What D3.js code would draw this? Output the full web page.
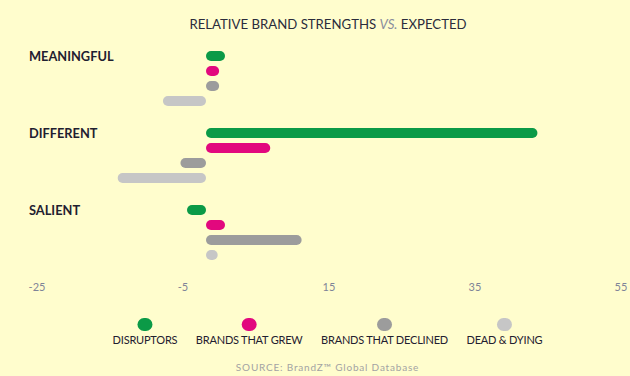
<!DOCTYPE html>
<html>
<head>
<meta charset="utf-8">
<script src="https://cdn.jsdelivr.net/npm/d3@7"></script>
<style>
  html, body { margin: 0; padding: 0; background: #fffdcd; }
  svg { display: block; font-family: Lato, "Open Sans", sans-serif; }
</style>
</head>
<body>
<script>
// values, relative strength vs expected
const groups = ['MEANINGFUL', 'DIFFERENT', 'SALIENT'];
const series = ['DISRUPTORS', 'BRANDS THAT GREW', 'BRANDS THAT DECLINED', 'DEAD & DYING'];
const meaningful = [2.6, 1.8, 1.8, -5.9];
const different = [45.4, 8.8, -3.5, -12.1];
const salient = [-2.6, 2.6, 13.1, 1.6];
const ticks = [-25, -5, 15, 35, 55];
const colors = ['#0b9a47', '#e2087e', '#9c9c9c', '#c6c6c6'];

const width = 630;
const height = 376;

const svg = d3.select('body').append('svg')
  .attr('width', width)
  .attr('height', height);

svg.append('rect')
  .attr('width', width)
  .attr('height', height)
  .attr('fill', '#fffdcd');

const x = d3.scaleLinear()
  .domain([-25, 55])
  .range([23.5, 607.5]);

const y = d3.scalePoint()
  .domain(groups)
  .range([56, 210]);

const yInner = d3.scalePoint()
  .domain(series)
  .range([0, 45]);

const color = d3.scaleOrdinal().domain(series).range(colors);

const barH = 10;

// title
const title = svg.append('text')
  .attr('x', 328)
  .attr('y', 29)
  .attr('text-anchor', 'middle')
  .attr('font-size', 13.2)
  .attr('fill', '#2b2c3c');
title.append('tspan').text('RELATIVE BRAND STRENGTHS ');
title.append('tspan').text('VS.').attr('font-style', 'italic').attr('fill', '#8a8d9c');
title.append('tspan').text(' EXPECTED');

const rows = [meaningful, different, salient].map((vals, i) => ({
  group: groups[i],
  values: vals.map((v, j) => ({ key: series[j], value: v })),
}));

const g = svg.selectAll('g.group').data(rows)
  .enter().append('g')
    .attr('class', 'group')
    .attr('transform', d => `translate(0,${y(d.group)})`);

g.append('text')
  .attr('x', 29)
  .attr('y', 5)
  .attr('font-size', 12.8)
  .attr('font-weight', 700)
  .attr('fill', '#1f2030')
  .text(d => d.group);

g.selectAll('rect').data(d => d.values)
  .enter().append('rect')
    .attr('x', d => Math.min(x(0), x(d.value)))
    .attr('y', d => yInner(d.key) - barH / 2)
    .attr('width', d => Math.abs(x(d.value) - x(0)))
    .attr('height', barH)
    .attr('rx', barH / 2)
    .attr('fill', d => color(d.key));

// axis, labels only
const axis = svg.append('g')
  .attr('transform', 'translate(0,280)')
  .call(d3.axisBottom(x).tickValues(ticks).tickFormat(d => String(d)).tickSize(0).tickPadding(0));
axis.select('.domain').remove();
axis.selectAll('text')
  .attr('dx', 13)
  .attr('dy', 11)
  .attr('font-family', 'Lato, "Open Sans", sans-serif')
  .attr('font-size', 11)
  .attr('fill', '#7f8498');

// legend, laid out left to right and centred
const legend = svg.append('g');
const items = legend.selectAll('g').data(series)
  .enter().append('g');
items.append('text')
  .attr('y', 344)
  .attr('text-anchor', 'middle')
  .attr('font-size', 11)
  .attr('fill', '#1f2030')
  .attr('letter-spacing', -0.2)
  .text(d => d);
items.append('rect')
  .attr('y', 318)
  .attr('x', -7.5)
  .attr('width', 15)
  .attr('height', 13)
  .attr('rx', 6.5)
  .attr('fill', d => color(d));

const gap = 18.5;
const widths = [];
items.select('text').each(function () { widths.push(this.getComputedTextLength()); });
const total = d3.sum(widths) + gap * (widths.length - 1);
let cursor = 327.5 - total / 2;
items.attr('transform', (d, i) => {
  const cx = cursor + widths[i] / 2;
  cursor += widths[i] + gap;
  return `translate(${cx},0)`;
});

svg.append('text')
  .attr('x', 327.5)
  .attr('y', 371)
  .attr('text-anchor', 'middle')
  .attr('font-size', 10)
  .attr('letter-spacing', 0.8)
  .attr('fill', '#a3a3a3')
  .text('SOURCE: BrandZ\u2122 Global Database');
</script>
</body>
</html>
